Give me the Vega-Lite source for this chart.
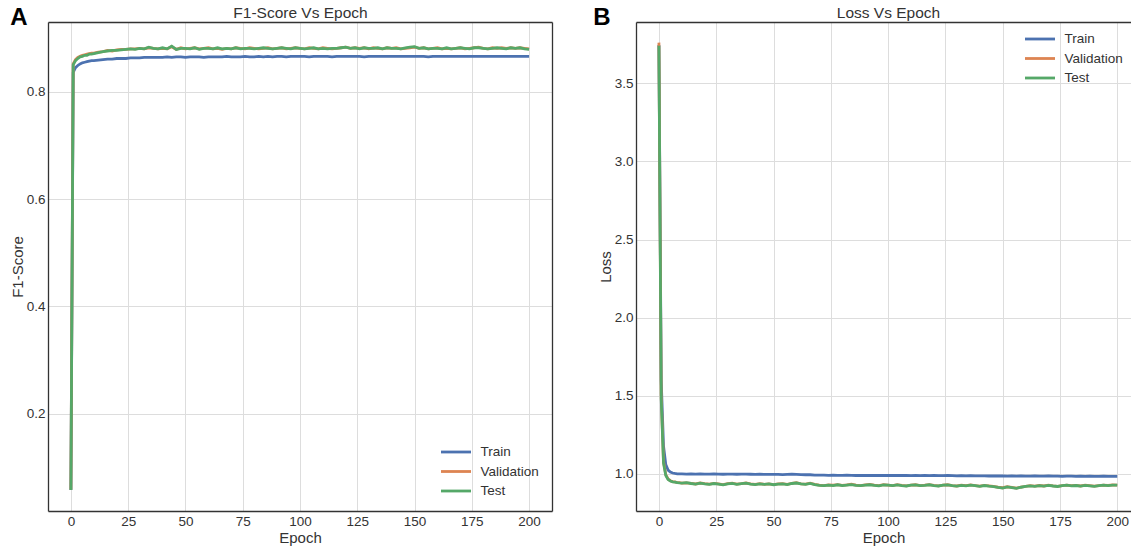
{
"$schema": "https://vega.github.io/schema/vega-lite/v6.json",
"padding": {"left": 10, "top": 5, "right": 0, "bottom": 0},
"background": "white",
"spacing": 41,
"config": {
  "font": "Liberation Sans",
  "view": {"stroke": null},
  "axis": {"labelFont": "Liberation Sans", "labelFontSize": 13.5, "labelColor": "#333333", "titleFont": "Liberation Sans", "titleFontSize": 15, "titleFontWeight": "normal", "titleColor": "#333333", "gridColor": "#dddddd", "gridWidth": 1, "domainColor": "#333333", "domainWidth": 1.3, "ticks": false, "labelPadding": 3},
  "legend": {"labelFont": "Liberation Sans", "labelFontSize": 13.5, "labelColor": "#333333", "symbolType": "M-2,0H2", "symbolSize": 225, "symbolStrokeWidth": 2.8, "labelOffset": 15.5, "rowPadding": 3.5, "padding": 0}
},
"datasets": {
"f1": [
{"Epoch":0,"Train":0.058,"Validation":0.059,"Test":0.058},
{"Epoch":1,"Train":0.836,"Validation":0.852,"Test":0.850},
{"Epoch":2,"Train":0.845,"Validation":0.860,"Test":0.858},
{"Epoch":3,"Train":0.849,"Validation":0.864,"Test":0.862},
{"Epoch":4,"Train":0.852,"Validation":0.866,"Test":0.865},
{"Epoch":5,"Train":0.854,"Validation":0.868,"Test":0.866},
{"Epoch":6,"Train":0.855,"Validation":0.869,"Test":0.868},
{"Epoch":7,"Train":0.856,"Validation":0.870,"Test":0.868},
{"Epoch":8,"Train":0.857,"Validation":0.871,"Test":0.870},
{"Epoch":9,"Train":0.858,"Validation":0.872,"Test":0.870},
{"Epoch":10,"Train":0.858,"Validation":0.872,"Test":0.871},
{"Epoch":12,"Train":0.859,"Validation":0.874,"Test":0.873},
{"Epoch":14,"Train":0.860,"Validation":0.875,"Test":0.875},
{"Epoch":16,"Train":0.861,"Validation":0.877,"Test":0.876},
{"Epoch":18,"Train":0.861,"Validation":0.876,"Test":0.877},
{"Epoch":20,"Train":0.862,"Validation":0.878,"Test":0.877},
{"Epoch":22,"Train":0.862,"Validation":0.879,"Test":0.878},
{"Epoch":24,"Train":0.862,"Validation":0.879,"Test":0.879},
{"Epoch":26,"Train":0.863,"Validation":0.880,"Test":0.880},
{"Epoch":28,"Train":0.863,"Validation":0.880,"Test":0.879},
{"Epoch":30,"Train":0.863,"Validation":0.881,"Test":0.881},
{"Epoch":32,"Train":0.864,"Validation":0.880,"Test":0.880},
{"Epoch":34,"Train":0.864,"Validation":0.882,"Test":0.883},
{"Epoch":36,"Train":0.864,"Validation":0.881,"Test":0.881},
{"Epoch":38,"Train":0.864,"Validation":0.880,"Test":0.880},
{"Epoch":40,"Train":0.864,"Validation":0.881,"Test":0.882},
{"Epoch":42,"Train":0.865,"Validation":0.880,"Test":0.880},
{"Epoch":44,"Train":0.864,"Validation":0.884,"Test":0.885},
{"Epoch":46,"Train":0.865,"Validation":0.879,"Test":0.879},
{"Epoch":48,"Train":0.865,"Validation":0.882,"Test":0.881},
{"Epoch":50,"Train":0.864,"Validation":0.880,"Test":0.881},
{"Epoch":52,"Train":0.865,"Validation":0.881,"Test":0.880},
{"Epoch":54,"Train":0.865,"Validation":0.882,"Test":0.882},
{"Epoch":56,"Train":0.865,"Validation":0.880,"Test":0.879},
{"Epoch":58,"Train":0.864,"Validation":0.881,"Test":0.881},
{"Epoch":60,"Train":0.865,"Validation":0.882,"Test":0.881},
{"Epoch":62,"Train":0.865,"Validation":0.880,"Test":0.880},
{"Epoch":64,"Train":0.865,"Validation":0.881,"Test":0.882},
{"Epoch":66,"Train":0.865,"Validation":0.879,"Test":0.880},
{"Epoch":68,"Train":0.866,"Validation":0.881,"Test":0.881},
{"Epoch":70,"Train":0.865,"Validation":0.880,"Test":0.880},
{"Epoch":72,"Train":0.865,"Validation":0.882,"Test":0.882},
{"Epoch":74,"Train":0.865,"Validation":0.881,"Test":0.880},
{"Epoch":76,"Train":0.866,"Validation":0.880,"Test":0.881},
{"Epoch":78,"Train":0.865,"Validation":0.882,"Test":0.881},
{"Epoch":80,"Train":0.865,"Validation":0.881,"Test":0.880},
{"Epoch":82,"Train":0.866,"Validation":0.880,"Test":0.881},
{"Epoch":84,"Train":0.865,"Validation":0.881,"Test":0.882},
{"Epoch":86,"Train":0.866,"Validation":0.882,"Test":0.881},
{"Epoch":88,"Train":0.865,"Validation":0.880,"Test":0.880},
{"Epoch":90,"Train":0.866,"Validation":0.881,"Test":0.881},
{"Epoch":92,"Train":0.866,"Validation":0.882,"Test":0.882},
{"Epoch":94,"Train":0.865,"Validation":0.880,"Test":0.881},
{"Epoch":96,"Train":0.866,"Validation":0.881,"Test":0.880},
{"Epoch":98,"Train":0.866,"Validation":0.882,"Test":0.882},
{"Epoch":100,"Train":0.866,"Validation":0.881,"Test":0.881},
{"Epoch":102,"Train":0.866,"Validation":0.880,"Test":0.880},
{"Epoch":104,"Train":0.865,"Validation":0.882,"Test":0.881},
{"Epoch":106,"Train":0.866,"Validation":0.881,"Test":0.882},
{"Epoch":108,"Train":0.866,"Validation":0.880,"Test":0.880},
{"Epoch":110,"Train":0.866,"Validation":0.882,"Test":0.881},
{"Epoch":112,"Train":0.866,"Validation":0.881,"Test":0.880},
{"Epoch":114,"Train":0.865,"Validation":0.880,"Test":0.881},
{"Epoch":116,"Train":0.866,"Validation":0.881,"Test":0.881},
{"Epoch":118,"Train":0.866,"Validation":0.882,"Test":0.882},
{"Epoch":120,"Train":0.866,"Validation":0.883,"Test":0.883},
{"Epoch":122,"Train":0.866,"Validation":0.881,"Test":0.881},
{"Epoch":124,"Train":0.866,"Validation":0.882,"Test":0.882},
{"Epoch":126,"Train":0.866,"Validation":0.881,"Test":0.880},
{"Epoch":128,"Train":0.865,"Validation":0.882,"Test":0.882},
{"Epoch":130,"Train":0.866,"Validation":0.880,"Test":0.881},
{"Epoch":132,"Train":0.866,"Validation":0.882,"Test":0.881},
{"Epoch":134,"Train":0.866,"Validation":0.881,"Test":0.882},
{"Epoch":136,"Train":0.866,"Validation":0.880,"Test":0.880},
{"Epoch":138,"Train":0.866,"Validation":0.882,"Test":0.882},
{"Epoch":140,"Train":0.866,"Validation":0.881,"Test":0.881},
{"Epoch":142,"Train":0.866,"Validation":0.882,"Test":0.881},
{"Epoch":144,"Train":0.866,"Validation":0.880,"Test":0.880},
{"Epoch":146,"Train":0.866,"Validation":0.881,"Test":0.882},
{"Epoch":148,"Train":0.866,"Validation":0.882,"Test":0.883},
{"Epoch":150,"Train":0.866,"Validation":0.883,"Test":0.884},
{"Epoch":152,"Train":0.866,"Validation":0.881,"Test":0.881},
{"Epoch":154,"Train":0.866,"Validation":0.882,"Test":0.882},
{"Epoch":156,"Train":0.865,"Validation":0.880,"Test":0.880},
{"Epoch":158,"Train":0.866,"Validation":0.881,"Test":0.881},
{"Epoch":160,"Train":0.866,"Validation":0.882,"Test":0.881},
{"Epoch":162,"Train":0.866,"Validation":0.880,"Test":0.880},
{"Epoch":164,"Train":0.866,"Validation":0.881,"Test":0.882},
{"Epoch":166,"Train":0.866,"Validation":0.880,"Test":0.880},
{"Epoch":168,"Train":0.866,"Validation":0.881,"Test":0.881},
{"Epoch":170,"Train":0.866,"Validation":0.882,"Test":0.882},
{"Epoch":172,"Train":0.866,"Validation":0.880,"Test":0.881},
{"Epoch":174,"Train":0.866,"Validation":0.881,"Test":0.880},
{"Epoch":176,"Train":0.866,"Validation":0.882,"Test":0.882},
{"Epoch":178,"Train":0.866,"Validation":0.883,"Test":0.882},
{"Epoch":180,"Train":0.866,"Validation":0.881,"Test":0.881},
{"Epoch":182,"Train":0.866,"Validation":0.880,"Test":0.880},
{"Epoch":184,"Train":0.866,"Validation":0.882,"Test":0.881},
{"Epoch":186,"Train":0.866,"Validation":0.881,"Test":0.882},
{"Epoch":188,"Train":0.866,"Validation":0.882,"Test":0.881},
{"Epoch":190,"Train":0.866,"Validation":0.881,"Test":0.880},
{"Epoch":192,"Train":0.866,"Validation":0.882,"Test":0.882},
{"Epoch":194,"Train":0.866,"Validation":0.881,"Test":0.881},
{"Epoch":196,"Train":0.866,"Validation":0.882,"Test":0.882},
{"Epoch":198,"Train":0.866,"Validation":0.881,"Test":0.880},
{"Epoch":200,"Train":0.866,"Validation":0.880,"Test":0.879}
],
"loss": [
{"Epoch":0,"Train":3.745,"Validation":3.760,"Test":3.740},
{"Epoch":1,"Train":1.600,"Validation":1.500,"Test":1.480},
{"Epoch":2,"Train":1.180,"Validation":1.080,"Test":1.070},
{"Epoch":3,"Train":1.060,"Validation":0.995,"Test":0.990},
{"Epoch":4,"Train":1.025,"Validation":0.968,"Test":0.965},
{"Epoch":5,"Train":1.012,"Validation":0.957,"Test":0.955},
{"Epoch":6,"Train":1.006,"Validation":0.951,"Test":0.950},
{"Epoch":7,"Train":1.003,"Validation":0.949,"Test":0.948},
{"Epoch":8,"Train":1.001,"Validation":0.945,"Test":0.945},
{"Epoch":9,"Train":1.000,"Validation":0.944,"Test":0.943},
{"Epoch":10,"Train":1.000,"Validation":0.941,"Test":0.942},
{"Epoch":12,"Train":0.999,"Validation":0.943,"Test":0.944},
{"Epoch":14,"Train":1.000,"Validation":0.940,"Test":0.939},
{"Epoch":16,"Train":0.999,"Validation":0.936,"Test":0.935},
{"Epoch":18,"Train":1.000,"Validation":0.942,"Test":0.941},
{"Epoch":20,"Train":0.999,"Validation":0.938,"Test":0.937},
{"Epoch":22,"Train":0.999,"Validation":0.935,"Test":0.934},
{"Epoch":24,"Train":1.000,"Validation":0.940,"Test":0.939},
{"Epoch":26,"Train":0.999,"Validation":0.936,"Test":0.935},
{"Epoch":28,"Train":0.998,"Validation":0.932,"Test":0.930},
{"Epoch":30,"Train":0.999,"Validation":0.938,"Test":0.937},
{"Epoch":32,"Train":0.999,"Validation":0.941,"Test":0.940},
{"Epoch":34,"Train":0.998,"Validation":0.935,"Test":0.934},
{"Epoch":36,"Train":0.999,"Validation":0.938,"Test":0.938},
{"Epoch":38,"Train":0.999,"Validation":0.942,"Test":0.941},
{"Epoch":40,"Train":0.998,"Validation":0.936,"Test":0.935},
{"Epoch":42,"Train":0.997,"Validation":0.933,"Test":0.932},
{"Epoch":44,"Train":0.998,"Validation":0.938,"Test":0.937},
{"Epoch":46,"Train":0.997,"Validation":0.934,"Test":0.933},
{"Epoch":48,"Train":0.997,"Validation":0.937,"Test":0.936},
{"Epoch":50,"Train":0.997,"Validation":0.932,"Test":0.931},
{"Epoch":52,"Train":0.997,"Validation":0.936,"Test":0.935},
{"Epoch":54,"Train":0.996,"Validation":0.938,"Test":0.937},
{"Epoch":56,"Train":0.997,"Validation":0.934,"Test":0.932},
{"Epoch":58,"Train":0.998,"Validation":0.940,"Test":0.939},
{"Epoch":60,"Train":0.997,"Validation":0.944,"Test":0.942},
{"Epoch":62,"Train":0.996,"Validation":0.937,"Test":0.936},
{"Epoch":64,"Train":0.995,"Validation":0.935,"Test":0.933},
{"Epoch":66,"Train":0.995,"Validation":0.941,"Test":0.940},
{"Epoch":68,"Train":0.993,"Validation":0.933,"Test":0.932},
{"Epoch":70,"Train":0.992,"Validation":0.928,"Test":0.927},
{"Epoch":72,"Train":0.992,"Validation":0.926,"Test":0.925},
{"Epoch":74,"Train":0.991,"Validation":0.930,"Test":0.929},
{"Epoch":76,"Train":0.992,"Validation":0.928,"Test":0.926},
{"Epoch":78,"Train":0.991,"Validation":0.932,"Test":0.931},
{"Epoch":80,"Train":0.991,"Validation":0.927,"Test":0.926},
{"Epoch":82,"Train":0.992,"Validation":0.930,"Test":0.929},
{"Epoch":84,"Train":0.991,"Validation":0.934,"Test":0.932},
{"Epoch":86,"Train":0.990,"Validation":0.928,"Test":0.927},
{"Epoch":88,"Train":0.991,"Validation":0.926,"Test":0.925},
{"Epoch":90,"Train":0.990,"Validation":0.930,"Test":0.929},
{"Epoch":92,"Train":0.991,"Validation":0.933,"Test":0.931},
{"Epoch":94,"Train":0.990,"Validation":0.928,"Test":0.927},
{"Epoch":96,"Train":0.990,"Validation":0.925,"Test":0.924},
{"Epoch":98,"Train":0.991,"Validation":0.931,"Test":0.930},
{"Epoch":100,"Train":0.990,"Validation":0.929,"Test":0.928},
{"Epoch":102,"Train":0.990,"Validation":0.926,"Test":0.925},
{"Epoch":104,"Train":0.991,"Validation":0.932,"Test":0.930},
{"Epoch":106,"Train":0.990,"Validation":0.927,"Test":0.926},
{"Epoch":108,"Train":0.990,"Validation":0.924,"Test":0.923},
{"Epoch":110,"Train":0.989,"Validation":0.929,"Test":0.928},
{"Epoch":112,"Train":0.990,"Validation":0.931,"Test":0.930},
{"Epoch":114,"Train":0.989,"Validation":0.926,"Test":0.925},
{"Epoch":116,"Train":0.990,"Validation":0.928,"Test":0.927},
{"Epoch":118,"Train":0.989,"Validation":0.932,"Test":0.931},
{"Epoch":120,"Train":0.990,"Validation":0.927,"Test":0.926},
{"Epoch":122,"Train":0.989,"Validation":0.924,"Test":0.923},
{"Epoch":124,"Train":0.989,"Validation":0.929,"Test":0.928},
{"Epoch":126,"Train":0.990,"Validation":0.931,"Test":0.930},
{"Epoch":128,"Train":0.989,"Validation":0.926,"Test":0.925},
{"Epoch":130,"Train":0.988,"Validation":0.923,"Test":0.922},
{"Epoch":132,"Train":0.989,"Validation":0.928,"Test":0.927},
{"Epoch":134,"Train":0.988,"Validation":0.925,"Test":0.924},
{"Epoch":136,"Train":0.989,"Validation":0.930,"Test":0.929},
{"Epoch":138,"Train":0.988,"Validation":0.926,"Test":0.925},
{"Epoch":140,"Train":0.988,"Validation":0.922,"Test":0.921},
{"Epoch":142,"Train":0.988,"Validation":0.927,"Test":0.926},
{"Epoch":144,"Train":0.987,"Validation":0.924,"Test":0.922},
{"Epoch":146,"Train":0.988,"Validation":0.920,"Test":0.919},
{"Epoch":148,"Train":0.987,"Validation":0.915,"Test":0.914},
{"Epoch":150,"Train":0.987,"Validation":0.912,"Test":0.910},
{"Epoch":152,"Train":0.986,"Validation":0.918,"Test":0.917},
{"Epoch":154,"Train":0.987,"Validation":0.914,"Test":0.913},
{"Epoch":156,"Train":0.986,"Validation":0.910,"Test":0.908},
{"Epoch":158,"Train":0.987,"Validation":0.916,"Test":0.915},
{"Epoch":160,"Train":0.986,"Validation":0.921,"Test":0.920},
{"Epoch":162,"Train":0.986,"Validation":0.925,"Test":0.924},
{"Epoch":164,"Train":0.987,"Validation":0.922,"Test":0.921},
{"Epoch":166,"Train":0.986,"Validation":0.926,"Test":0.925},
{"Epoch":168,"Train":0.986,"Validation":0.923,"Test":0.922},
{"Epoch":170,"Train":0.987,"Validation":0.928,"Test":0.927},
{"Epoch":172,"Train":0.986,"Validation":0.924,"Test":0.923},
{"Epoch":174,"Train":0.986,"Validation":0.921,"Test":0.920},
{"Epoch":176,"Train":0.985,"Validation":0.926,"Test":0.925},
{"Epoch":178,"Train":0.986,"Validation":0.929,"Test":0.928},
{"Epoch":180,"Train":0.986,"Validation":0.925,"Test":0.924},
{"Epoch":182,"Train":0.985,"Validation":0.927,"Test":0.926},
{"Epoch":184,"Train":0.986,"Validation":0.923,"Test":0.922},
{"Epoch":186,"Train":0.985,"Validation":0.928,"Test":0.927},
{"Epoch":188,"Train":0.986,"Validation":0.925,"Test":0.924},
{"Epoch":190,"Train":0.985,"Validation":0.922,"Test":0.921},
{"Epoch":192,"Train":0.985,"Validation":0.926,"Test":0.925},
{"Epoch":194,"Train":0.986,"Validation":0.929,"Test":0.928},
{"Epoch":196,"Train":0.985,"Validation":0.927,"Test":0.926},
{"Epoch":198,"Train":0.985,"Validation":0.930,"Test":0.929},
{"Epoch":200,"Train":0.985,"Validation":0.929,"Test":0.928}
]
},
"hconcat": [
{
  "width": 504, "height": 489,
  "data": {"name": "f1"},
  "transform": [{"fold": ["Train", "Validation", "Test"], "as": ["Series", "Value"]}],
  "title": {"text": "A", "anchor": "start", "frame": "bounds", "font": "Liberation Sans", "fontSize": 24, "fontWeight": "bold", "color": "#000000", "baseline": "alphabetic", "offset": -44},
  "layer": [
    {"mark": {"type": "line", "strokeWidth": 2.8},
     "encoding": {
       "x": {"field": "Epoch", "type": "quantitative", "scale": {"domain": [-10, 210], "nice": false, "zero": false}, "axis": {"values": [0, 25, 50, 75, 100, 125, 150, 175, 200], "title": "Epoch", "grid": true, "titlePadding": 3}},
       "y": {"field": "Value", "type": "quantitative", "scale": {"domain": [0.019, 0.930], "nice": false, "zero": false}, "axis": {"values": [0.2, 0.4, 0.6, 0.8], "format": ".1f", "title": "F1-Score", "grid": true, "titlePadding": 1}},
       "color": {"field": "Series", "type": "nominal", "scale": {"domain": ["Train", "Validation", "Test"], "range": ["#4c72b0", "#dd8452", "#55a868"]}, "legend": {"title": null, "orient": "bottom-right", "offset": 13}}
     }},
    {"mark": {"type": "line", "opacity": 0},
     "encoding": {
       "x": {"field": "Epoch", "type": "quantitative", "axis": {"orient": "top", "labels": false, "grid": false, "title": "F1-Score Vs Epoch", "titleFontSize": 15.5, "titlePadding": 2}},
       "y": {"field": "Value", "type": "quantitative", "axis": {"orient": "right", "labels": false, "grid": false, "title": null}}
     }}
  ],
  "resolve": {"axis": {"x": "independent", "y": "independent"}}
},
{
  "width": 495, "height": 489,
  "data": {"name": "loss"},
  "transform": [{"fold": ["Train", "Validation", "Test"], "as": ["Series", "Value"]}],
  "title": {"text": "B", "anchor": "start", "frame": "bounds", "font": "Liberation Sans", "fontSize": 24, "fontWeight": "bold", "color": "#000000", "baseline": "alphabetic", "offset": -44, "dx": -5},
  "layer": [
    {"mark": {"type": "line", "strokeWidth": 2.8},
     "encoding": {
       "x": {"field": "Epoch", "type": "quantitative", "scale": {"domain": [-10, 206], "nice": false, "zero": false}, "axis": {"values": [0, 25, 50, 75, 100, 125, 150, 175, 200], "title": "Epoch", "grid": true, "titlePadding": 3}},
       "y": {"field": "Value", "type": "quantitative", "scale": {"domain": [0.763, 3.892], "nice": false, "zero": false}, "axis": {"values": [1.0, 1.5, 2.0, 2.5, 3.0, 3.5], "format": ".1f", "title": "Loss", "grid": true, "titlePadding": 1}},
       "color": {"field": "Series", "type": "nominal", "scale": {"domain": ["Train", "Validation", "Test"], "range": ["#4c72b0", "#dd8452", "#55a868"]}, "legend": {"title": null, "orient": "top-right", "offset": 8}}
     }},
    {"mark": {"type": "line", "opacity": 0},
     "encoding": {
       "x": {"field": "Epoch", "type": "quantitative", "axis": {"orient": "top", "labels": false, "grid": false, "title": "Loss Vs Epoch", "titleFontSize": 15.5, "titlePadding": 2, "titleX": 252}},
       "y": {"field": "Value", "type": "quantitative", "axis": null}
     }}
  ],
  "resolve": {"axis": {"x": "independent", "y": "independent"}}
}
],
"resolve": {"scale": {"color": "independent"}, "legend": {"color": "independent"}}
}
